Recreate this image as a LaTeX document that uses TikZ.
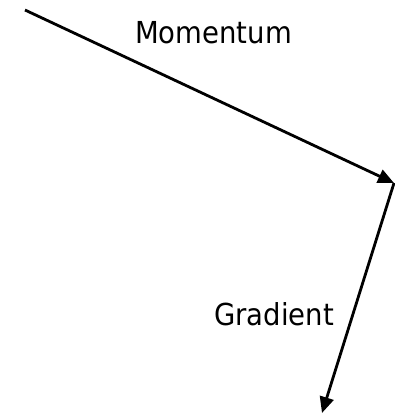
\documentclass[tikz,border=0pt]{standalone}
\usepackage{fontspec}
\setmainfont{DejaVu Sans}
\usetikzlibrary{arrows.meta}
\tikzset{
  vec/.style={line width=2.8pt, -{Triangle[length=16pt,width=14pt]}},
  lbl/.style={inner sep=0pt, anchor=base west, font=\fontsize{27.5pt}{30pt}\selectfont}
}
\begin{document}
\begin{tikzpicture}[x=1pt,y=-1pt]
\useasboundingbox (0,0) rectangle (395,415);
\coordinate (s) at (25,10);
\coordinate (m) at (394,183);
\coordinate (g) at (322,413);
\draw[vec] (s) -- (m);
\draw[vec] (m) -- (g);
\node[lbl] (mom) at (135,43) {\scalebox{1}[1.1]{Momentum}};
\node[lbl] (grad) at (214,325) {\scalebox{1}[1.1]{Gradient}};
\end{tikzpicture}
\end{document}
